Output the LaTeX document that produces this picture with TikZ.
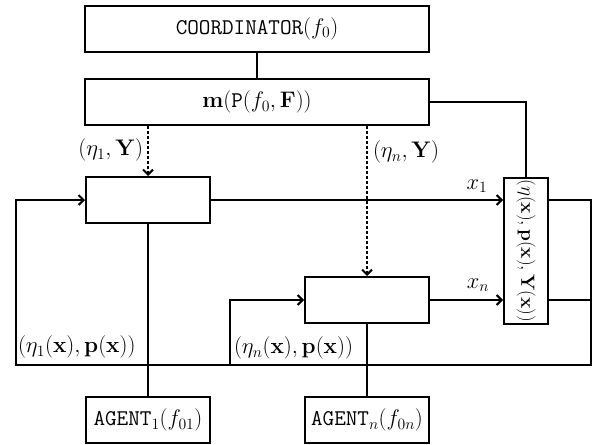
\RequirePackage{fix-cm}
\documentclass[tikz,border=0pt]{standalone}
\usepackage{amsmath}
\usepackage{graphicx}
\usetikzlibrary{arrows.meta}
\begin{document}
\begin{tikzpicture}[x=1pt,y=-1pt, line width=2pt,
  box/.style={draw, rectangle, inner sep=0pt, font=\fontsize{22.5}{26}\selectfont},
  lab/.style={inner sep=0pt, font=\fontsize{22.5}{26}\selectfont},
  arr/.style={-{Straight Barb[length=5pt,width=10pt]}},
  dsh/.style={dash pattern=on 3pt off 2pt}]
\useasboundingbox (0,0) rectangle (593,444);
\node[box, minimum width=344pt, minimum height=46pt] (coord) at (257,29) {\texttt{COORDINATOR}$(f_0)$};
\node[box, minimum width=344pt, minimum height=46pt] (mbox) at (257,102) {$\mathbf{m}(\mathtt{P}(f_0,\mathbf{F}))$};
\node[box, minimum width=124pt, minimum height=46pt] (box1) at (148,200) {};
\node[box, minimum width=124pt, minimum height=46pt] (box2) at (367,300) {};
\node[box, minimum width=44pt, minimum height=146pt] (tall) at (526,251) {\rotatebox{-90}{\fontsize{19}{22}\selectfont$(\eta(\mathbf{x}),\mathbf{p}(\mathbf{x}),\mathbf{Y}(\mathbf{x}))$}};
\node[box, minimum width=124pt, minimum height=46pt] (agent1) at (148,420) {\texttt{AGENT}$_1(f_{01})$};
\node[box, minimum width=124pt, minimum height=46pt] (agentn) at (367,420) {\texttt{AGENT}$_n(f_{0n})$};
\coordinate (cr) at (591,365);
\coordinate (cl) at (16,365);
\coordinate (cm) at (230,365);
\draw (coord) -- (mbox);
\draw (mbox.east) -| (tall.north);
\draw[dsh,arr] (mbox.south -| box1.north) -- (box1.north);
\draw[dsh,arr] (mbox.south -| box2.north) -- (box2.north);
\draw[arr] (box1.east) -- (tall.west |- box1.east);
\draw[arr] (box2.east) -- (tall.west |- box2.east);
\draw[arr] (tall.east |- box1.east) -| (cr) -- (cl) |- (box1.west);
\draw (tall.east |- box2.east) -- (cr |- box2.east);
\draw[arr] (cm) |- (box2.west);
\draw (box1) -- (agent1);
\draw (box2) -- (agentn);
\node[lab, anchor=east] (l1) at (144,150) {$(\eta_1,\mathbf{Y})$};
\node[lab, anchor=west] (l2) at (372,152) {$(\eta_n,\mathbf{Y})$};
\node[lab] (l3) at (477,186) {$x_1$};
\node[lab] (l4) at (478,285) {$x_n$};
\node[lab, anchor=west] (l5) at (17,347) {$(\eta_1(\mathbf{x}),\mathbf{p}(\mathbf{x}))$};
\node[lab, anchor=west] (l6) at (233,348) {$(\eta_n(\mathbf{x}),\mathbf{p}(\mathbf{x}))$};
\end{tikzpicture}
\end{document}
